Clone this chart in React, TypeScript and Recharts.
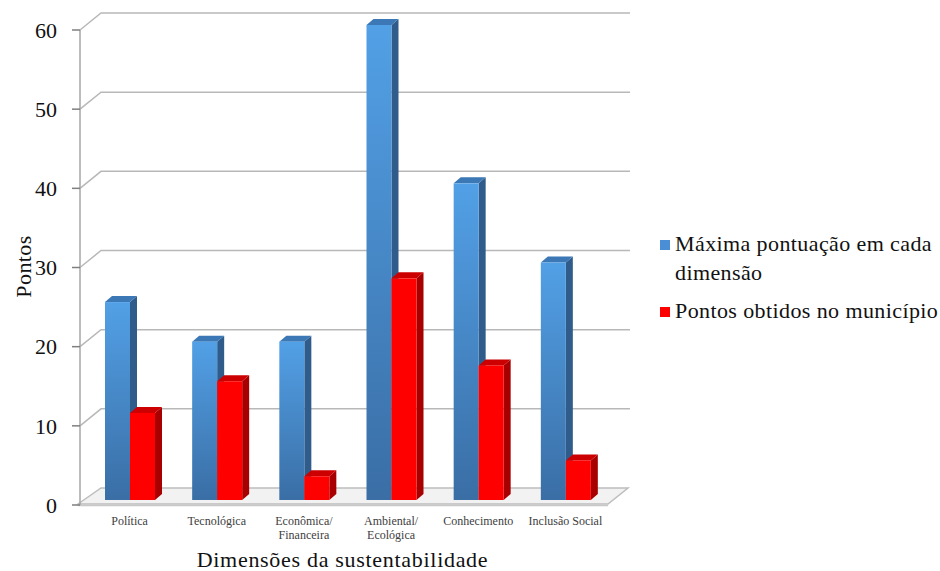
import React from 'react';
import { BarChart, Bar, XAxis, YAxis, CartesianGrid, Legend } from 'recharts';

const categories = [
  'Política',
  'Tecnológica',
  'Econômica/\nFinanceira',
  'Ambiental/\nEcológica',
  'Conhecimento',
  'Inclusão Social',
];
const maxPoints = [25, 20, 20, 60, 40, 30];
const obtainedPoints = [11, 15, 3, 28, 17, 5];
const yTicks = [0, 10, 20, 30, 40, 50, 60];
const seriesNames = ['Máxima pontuação em cada dimensão', 'Pontos obtidos no município'];
const xTitle = 'Dimensões da sustentabilidade';
const yTitle = 'Pontos';

const data = categories.map((c, i) => ({
  category: c,
  max: maxPoints[i],
  obtained: obtainedPoints[i],
}));

const FONT = 'Liberation Serif';
const DX = 7;
const DY = 6;

function make3D(id: string, c1: string, c2: string, side: string, top: string) {
  return (props: any) => {
    const { x, y, width, height } = props;
    if (height == null || width == null) return <g />;
    return (
      <g>
        <defs>
          <linearGradient id={id} x1="0" y1="0" x2="0" y2="1">
            <stop offset="0%" stopColor={c1} />
            <stop offset="100%" stopColor={c2} />
          </linearGradient>
        </defs>
        <polygon
          points={`${x + width},${y} ${x + width + DX},${y - DY} ${x + width + DX},${y + height - DY} ${x + width},${y + height}`}
          fill={side}
        />
        <polygon
          points={`${x},${y} ${x + DX},${y - DY} ${x + width + DX},${y - DY} ${x + width},${y}`}
          fill={top}
        />
        <rect x={x} y={y} width={width} height={height} fill={`url(#${id})`} />
      </g>
    );
  };
}

const blueShape = make3D('gBlue', '#52A0E6', '#3A6EA5', '#2F5C8A', '#3B78B5');
const redShape = make3D('gRed', '#FF0000', '#FF0000', '#A80000', '#CC0000');

const gridLine = (p: any) => {
  const { x1, y1, x2, key } = p;
  const isZero = Math.abs(y1 - 500) < 1;
  return (
    <g key={key}>
      {isZero ? (
        <g>
          <polygon
            points={`${x1 - 8},${y1 + 4} ${x1 + 15},${y1 - 12} ${x2 + 19},${y1 - 12} ${x2 - 1},${y1 + 4}`}
            fill="#f2f2f2"
            stroke="#bdbdbd"
            strokeWidth={1.5}
          />
          <line x1={x1 - 8} y1={y1 + 5.5} x2={x2 - 1} y2={y1 + 5.5} stroke="#c8c8c8" strokeWidth={1.5} />
        </g>
      ) : (
        <polyline
          points={`${x1 - 6},${y1 + 5} ${x1 + 15},${y1 - 12} ${x2 + 21},${y1 - 12}`}
          fill="none"
          stroke="#b8b8b8"
          strokeWidth={1.5}
        />
      )}
    </g>
  );
};

const YTick = (props: any) => {
  const { x, y, payload } = props;
  return (
    <g>
      <line x1={x - 14} y1={y + 5} x2={x - 6} y2={y + 5} stroke="#7f7f7f" strokeWidth={1.5} />
      <text x={x - 29} y={y + 5} dy="0.35em" textAnchor="end" fontFamily={FONT} fontSize={22} fill="#111">
        {payload.value}
      </text>
    </g>
  );
};

const XTick = (props: any) => {
  const { x, y, payload } = props;
  const lines = String(payload.value).split('\n');
  return (
    <g>
      {lines.map((l, i) => (
        <text key={i} x={x} y={y + 25 + i * 14} textAnchor="middle" fontFamily={FONT} fontSize={12} fill="#404040">
          {l}
        </text>
      ))}
    </g>
  );
};

const renderLegend = (props: any) => {
  const { payload } = props;
  return (
    <div style={{ fontFamily: FONT, fontSize: 22, letterSpacing: 0.4, color: '#111', width: 285 }}>
      {payload.map((e: any, i: number) => (
        <div key={i} style={{ display: 'flex', alignItems: 'flex-start', marginBottom: 9 }}>
          <span
            style={{
              display: 'inline-block',
              flex: '0 0 auto',
              width: 10,
              height: 10,
              background: e.color,
              marginTop: 11,
              marginRight: 5,
            }}
          />
          <span style={{ lineHeight: '29px', fontFamily: FONT }}>{e.value}</span>
        </div>
      ))}
    </div>
  );
};

export default function App() {
  return (
    <div style={{ position: 'absolute', left: 0, top: 0, width: 940, height: 571, background: '#fff', fontFamily: FONT }}>
      <BarChart
        width={940}
        height={571}
        data={data}
        margin={{ top: 25, right: 331, left: 0, bottom: 0 }}
        barGap={0}
      >
        <CartesianGrid horizontal={gridLine} vertical={false} />
        <XAxis
          dataKey="category"
          interval={0}
          height={71}
          tickLine={false}
          axisLine={false}
          tickSize={0}
          tickMargin={0}
          tick={<XTick />}
          label={(lp: any) => {
            const vb = lp.viewBox || {};
            const cx = (vb.x || 0) + (vb.width || 0) / 2 - 5;
            return (
              <text x={cx} y={567} textAnchor="middle" fontFamily={FONT} fontSize={22} letterSpacing={0.7} fill="#111">
                {xTitle}
              </text>
            );
          }}
        />
        <YAxis
          domain={[0, 60]}
          ticks={yTicks}
          width={86}
          tickLine={false}
          tickSize={0}
          tickMargin={0}
          interval={0}
          axisLine={{ stroke: '#a6a6a6', strokeWidth: 1.5, transform: 'translate(-6,5)' }}
          tick={<YTick />}
          label={(lp: any) => {
            const vb = lp.viewBox || {};
            const cy = (vb.y || 0) + (vb.height || 0) / 2 + 4;
            return (
              <text
                x={23}
                y={cy}
                transform={`rotate(-90, 23, ${cy})`}
                textAnchor="middle"
                dominantBaseline="central"
                fontFamily={FONT}
                fontSize={22}
                letterSpacing={0.4}
                fill="#111"
              >
                {yTitle}
              </text>
            );
          }}
        />
        <Legend
          layout="vertical"
          align="center"
          verticalAlign="middle"
          content={renderLegend}
          wrapperStyle={{ position: 'absolute', left: 660, top: 229, width: 285 }}
        />
        <Bar dataKey="max" name={seriesNames[0]} fill="#4A8FD6" barSize={25} shape={blueShape} isAnimationActive={false} />
        <Bar dataKey="obtained" name={seriesNames[1]} fill="#FF0000" barSize={25} shape={redShape} isAnimationActive={false} />
      </BarChart>
    </div>
  );
}
